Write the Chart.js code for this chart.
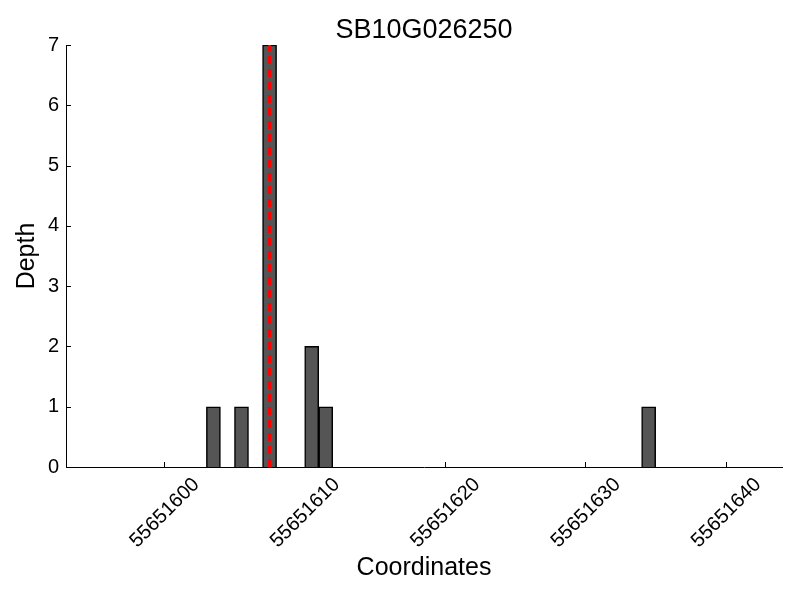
<!DOCTYPE html>
<html lang="en">
<head>
  <meta charset="UTF-8" />
  <title>SB10G026250</title>
  <script src="https://cdn.jsdelivr.net/npm/chart.js"></script>
  <style>
    html, body { margin: 0; padding: 0; background: #fff; }
  </style>
</head>
<body>
  <canvas id="depthChart" width="800" height="600"></canvas>

  <script>
    // Read coverage: start coordinate of each 1bp bin and its depth
    const positions = [55651603, 55651605, 55651607, 55651610, 55651611, 55651634];
    const depths = [1, 1, 7, 2, 1, 1];

    // Marked site (red dashed line)
    const markerPos = 55651607.5;

    // Axis ranges / ticks
    const xMin = 55651593;
    const xMax = 55651644;
    const xTicks = [55651600, 55651610, 55651620, 55651630, 55651640];
    const yMax = 7;

    const FONT = "'Liberation Sans', Arial, Helvetica, sans-serif";

    // matplotlib-style inward tick marks
    const inwardTicks = {
      id: 'inwardTicks',
      beforeDatasetsDraw(chart) {
        const ctx = chart.ctx;
        const x = chart.scales.x;
        const y = chart.scales.y;
        const area = chart.chartArea;
        ctx.save();
        ctx.strokeStyle = '#000';
        ctx.lineWidth = 1;
        ctx.beginPath();
        x.ticks.forEach(t => {
          const px = Math.round(x.getPixelForValue(t.value)) + 0.5;
          ctx.moveTo(px, area.bottom);
          ctx.lineTo(px, area.bottom - 5);
        });
        y.ticks.forEach(t => {
          const py = Math.round(y.getPixelForValue(t.value)) + 0.5;
          ctx.moveTo(area.left, py);
          ctx.lineTo(area.left + 5, py);
        });
        ctx.stroke();
        ctx.restore();
      }
    };

    const ctx = document.getElementById('depthChart').getContext('2d');
    new Chart(ctx, {
      type: 'bar',
      data: {
        datasets: [
          {
            type: 'line',
            xAxisID: 'x',
            yAxisID: 'y',
            data: [{ x: markerPos, y: 0 }, { x: markerPos, y: yMax }],
            borderColor: '#ff0000',
            borderWidth: 3,
            borderDash: [8, 5],
            pointRadius: 0,
            fill: false,
            order: 0
          },
          {
            type: 'bar',
            xAxisID: 'x',
            yAxisID: 'y',
            data: positions.map((p, i) => ({ x: p + 0.5, y: depths[i] })),
            backgroundColor: '#555555',
            borderColor: '#000000',
            borderWidth: 1.5,
            barPercentage: 1,
            categoryPercentage: 1,
            order: 1
          }
        ]
      },
      options: {
        responsive: false,
        animation: false,
        layout: { padding: { left: 0, right: 18, top: 0, bottom: 0 } },
        plugins: {
          legend: { display: false },
          tooltip: { enabled: false },
          title: { display: false }
        },
        scales: {
          x: {
            type: 'linear',
            min: xMin,
            max: xMax,
            offset: false,
            grid: { display: false, drawTicks: false },
            border: { display: true, color: '#000', width: 1 },
            afterBuildTicks: scale => { scale.ticks = xTicks.map(v => ({ value: v })); },
            afterFit: scale => { scale.height = 133; },
            ticks: {
              autoSkip: false,
              minRotation: 45,
              maxRotation: 45,
              padding: 6,
              labelOffset: 32,
              color: '#000',
              font: { family: FONT, size: 20 },
              callback: v => String(v)
            },
            title: {
              display: true,
              text: 'Coordinates',
              color: '#000',
              font: { family: FONT, size: 25 },
              padding: { top: 0, bottom: 17 }
            }
          },
          // top axis only carries the plot title, centred over the plot area
          top: {
            type: 'linear',
            axis: 'x',
            position: 'top',
            min: xMin,
            max: xMax,
            grid: { display: false, drawTicks: false },
            border: { display: false },
            ticks: { display: false },
            afterFit: scale => { scale.height = 45; },
            title: {
              display: true,
              text: 'SB10G026250',
              color: '#000',
              font: { family: FONT, size: 27 },
              padding: { top: 14, bottom: 0 }
            }
          },
          y: {
            min: 0,
            max: yMax,
            grid: { display: false, drawTicks: false },
            border: { display: true, color: '#000', width: 1 },
            afterFit: scale => { scale.width = 66; },
            ticks: {
              stepSize: 1,
              padding: 7,
              color: '#000',
              font: { family: FONT, size: 20 }
            },
            title: {
              display: true,
              text: 'Depth',
              color: '#000',
              font: { family: FONT, size: 25 },
              padding: { top: 12, bottom: 0 }
            }
          }
        }
      },
      plugins: [inwardTicks]
    });
  </script>
</body>
</html>
